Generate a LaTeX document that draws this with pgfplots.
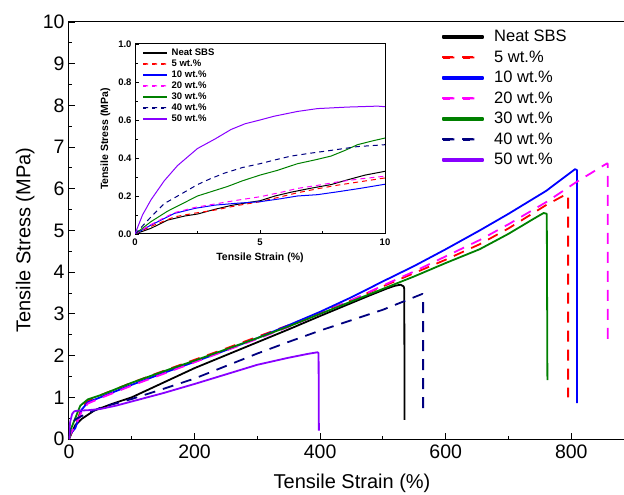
\documentclass[border=0pt]{standalone}
\usepackage{fontspec}
\setmainfont{Liberation Sans}
\usepackage{pgfplots}
\pgfplotsset{compat=1.18}
\definecolor{cnavy}{RGB}{0,0,128}
\definecolor{cgreen}{RGB}{0,128,0}
\definecolor{cviolet}{RGB}{136,0,255}
\definecolor{cblue}{RGB}{0,0,255}
\definecolor{cmag}{RGB}{255,0,255}
\definecolor{cred}{RGB}{255,0,0}
\begin{document}
\begin{tikzpicture}
\path[use as bounding box] (-69bp,-56bp) rectangle (555bp,439bp);
% ---------------- main axis ----------------
\begin{axis}[
  name=main,
  scale only axis, width=555bp, height=417bp,
  xmin=0, xmax=884, ymin=0, ymax=10,
  xtick={0,200,400,600,800}, minor x tick num=1,
  ytick={0,1,...,10}, minor y tick num=1,
  tick align=inside, tick pos=left,
  major tick length=6bp, minor tick length=3.5bp,
  every tick/.style={black, line width=0.9bp},
  axis line style={line width=1bp},
  /pgf/number format/assume math mode=true,
  ticklabel style={font=\fontsize{19.5bp}{22bp}\selectfont},
  xticklabel style={yshift=-2bp},
  yticklabel style={xshift=-1bp},
  xlabel={Tensile Strain (\%)}, ylabel={Tensile Stress (MPa)},
  label style={font=\fontsize{20bp}{24bp}\selectfont},
  x label style={at={(axis description cs:0.51,-0.106)}, anchor=center},
  y label style={at={(axis description cs:-0.079,0.477)}, anchor=center, rotate=0},
  legend cell align=left,
  legend style={at={(0.6725,0.985)}, anchor=north west, draw=none, fill=none,
    font=\fontsize{16.5bp}{19bp}\selectfont, row sep=3.5bp, column sep=8bp, inner sep=0pt},
]
\addplot[color=black, solid, line width=1.8bp, line join=round,
  legend image code/.code={\fill[black] (0bp,-0.9bp) rectangle (40bp,0.9bp);}] coordinates {
(0,0) (3,0.1) (5,0.175) (10,0.33) (20,0.48) (40,0.68) (70,0.85) (100,1.0) (150,1.35) (200,1.7) (250,2.01) (300,2.32) (350,2.63) (400,2.95) (440,3.2) (480,3.45) (505,3.6) (518,3.67) (528,3.70) (533,3.66) (534,3.6) (534.5,0.46)};
\addlegendentry{Neat SBS}
\addplot[color=cred, dash pattern=on 11bp off 8bp, line width=1.8bp, line join=round,
  legend image code/.code={\fill[cred] (0bp,-0.9bp) rectangle (11bp,0.9bp) (20bp,-0.9bp) rectangle (31bp,0.9bp);}] coordinates {
(0,0) (3,0.126) (5,0.17) (10,0.3) (20,0.75) (30,0.92) (50,1.05) (100,1.35) (150,1.63) (200,1.9) (250,2.17) (300,2.45) (350,2.73) (400,3.02) (450,3.33) (500,3.66) (550,3.98) (600,4.3) (654,4.67) (700,5.05) (760,5.61) (792,5.87) (795,5.85) (795,1.0)};
\addlegendentry{5 wt.\%}
\addplot[color=cblue, solid, line width=1.8bp, line join=round,
  legend image code/.code={\fill[cblue] (0bp,-0.9bp) rectangle (40bp,0.9bp);}] coordinates {
(0,0) (3,0.15) (5,0.17) (10,0.26) (20,0.7) (30,0.88) (50,1.0) (100,1.3) (150,1.58) (200,1.85) (250,2.13) (300,2.42) (350,2.73) (400,3.05) (450,3.4) (500,3.78) (550,4.15) (600,4.55) (654,5.0) (700,5.4) (760,5.95) (806,6.47) (809,6.45) (809,0.86)};
\addlegendentry{10 wt.\%}
\addplot[color=cmag, dash pattern=on 11bp off 8bp, line width=1.8bp, line join=round,
  legend image code/.code={\fill[cmag] (0bp,-0.9bp) rectangle (11bp,0.9bp) (20bp,-0.9bp) rectangle (31bp,0.9bp);}] coordinates {
(0,0) (3,0.15) (5,0.196) (10,0.30) (20,0.65) (30,0.85) (50,0.98) (100,1.28) (150,1.56) (200,1.84) (250,2.12) (300,2.40) (350,2.69) (400,3.0) (450,3.33) (500,3.68) (550,4.02) (600,4.38) (654,4.77) (700,5.15) (760,5.68) (808,6.16) (857,6.61) (858,6.6) (858,2.37)};
\addlegendentry{20 wt.\%}
\addplot[color=cgreen, solid, line width=1.8bp, line join=round,
  legend image code/.code={\fill[cgreen] (0bp,-0.9bp) rectangle (40bp,0.9bp);}] coordinates {
(0,0) (3,0.25) (5,0.31) (10,0.5) (18,0.8) (30,0.95) (50,1.05) (100,1.35) (150,1.62) (200,1.88) (250,2.15) (300,2.42) (350,2.7) (400,3.0) (450,3.3) (500,3.6) (550,3.9) (600,4.22) (654,4.55) (700,4.92) (740,5.28) (756,5.42) (761,5.40) (762,1.41)};
\addlegendentry{30 wt.\%}
\addplot[color=cnavy, dash pattern=on 11bp off 8bp, line width=1.8bp, line join=round,
  legend image code/.code={\fill[cnavy] (0bp,-0.9bp) rectangle (11bp,0.9bp) (20bp,-0.9bp) rectangle (31bp,0.9bp);}] coordinates {
(0,0) (2,0.26) (5,0.37) (10,0.47) (20,0.55) (50,0.75) (100,0.96) (150,1.2) (200,1.45) (250,1.75) (300,2.05) (350,2.33) (400,2.6) (450,2.85) (500,3.1) (563,3.48) (564,3.46) (564,0.58)};
\addlegendentry{40 wt.\%}
\addplot[color=cviolet, solid, line width=1.8bp, line join=round,
  legend image code/.code={\fill[cviolet] (0bp,-0.9bp) rectangle (40bp,0.9bp);}] coordinates {
(0,0) (1,0.27) (2,0.42) (5,0.6) (8,0.66) (10,0.67) (15,0.68) (30,0.69) (50,0.72) (75,0.8) (100,0.9) (150,1.1) (200,1.32) (250,1.55) (300,1.78) (350,1.95) (380,2.04) (396,2.08) (397.5,2.06) (398,0.2)};
\addlegendentry{50 wt.\%}
\end{axis}
% ---------------- inset ----------------
\begin{axis}[
  at={(66bp,205bp)}, anchor=south west,
  scale only axis, width=250bp, height=190bp,
  xmin=0, xmax=10, ymin=0, ymax=1,
  xtick={0,5,10}, minor x tick num=1,
  ytick={0,0.2,...,1.0}, minor y tick num=1,
  tick align=inside, tick pos=left,
  major tick length=4bp, minor tick length=2.5bp,
  every tick/.style={black, line width=0.8bp},
  axis line style={line width=1bp},
  /pgf/number format/assume math mode=true,
  yticklabel style={/pgf/number format/fixed, /pgf/number format/fixed zerofill, /pgf/number format/precision=1, xshift=0bp},
  ticklabel style={font=\bfseries\fontsize{9.5bp}{11bp}\selectfont},
  xticklabel style={yshift=-1.5bp},
  xlabel={Tensile Strain (\%)}, ylabel={Tensile Stress (MPa)},
  label style={font=\bfseries\fontsize{10.5bp}{12bp}\selectfont},
  x label style={at={(axis description cs:0.5,-0.126)}, anchor=center},
  y label style={at={(axis description cs:-0.118,0.5)}, anchor=center, rotate=0},
  legend cell align=left,
  legend style={at={(0.03,0.985)}, anchor=north west, draw=none, fill=none,
    font=\bfseries\fontsize{9.5bp}{10bp}\selectfont, row sep=-1.2bp, column sep=3bp, inner sep=0pt},
]
\addplot[color=black, solid, line width=1bp,
  legend image code/.code={\fill[black] (0bp,-0.55bp) rectangle (23bp,0.55bp);}] coordinates {
(0,0) (0.64,0.03) (1.3,0.073) (2.0,0.095) (2.5,0.105) (3.2,0.13) (3.84,0.15) (4.5,0.165) (5,0.175) (5.6,0.2) (6.24,0.22) (7,0.24) (7.84,0.26) (8.5,0.285) (9.2,0.31) (10,0.33)};
\addlegendentry{Neat SBS}
\addplot[color=cred, dash pattern=on 5bp off 4bp, line width=1bp,
  legend image code/.code={\fill[cred] (0bp,-0.55bp) rectangle (5bp,0.55bp) (9bp,-0.55bp) rectangle (14bp,0.55bp) (18bp,-0.55bp) rectangle (23bp,0.55bp);}] coordinates {
(0,0) (0.64,0.04) (1.57,0.09) (2.4,0.11) (3.2,0.126) (4.1,0.15) (5,0.17) (5.8,0.195) (6.5,0.217) (7.3,0.238) (8.1,0.257) (9,0.275) (10,0.295)};
\addlegendentry{5 wt.\%}
\addplot[color=cblue, solid, line width=1bp,
  legend image code/.code={\fill[cblue] (0bp,-0.55bp) rectangle (23bp,0.55bp);}] coordinates {
(0,0) (0.64,0.047) (1.57,0.108) (2.4,0.135) (3.2,0.152) (4.1,0.162) (5,0.17) (5.8,0.185) (6.5,0.2) (7.3,0.207) (8.1,0.222) (9,0.24) (10,0.262)};
\addlegendentry{10 wt.\%}
\addplot[color=cmag, dash pattern=on 5bp off 4bp, line width=1bp,
  legend image code/.code={\fill[cmag] (0bp,-0.55bp) rectangle (5bp,0.55bp) (9bp,-0.55bp) rectangle (14bp,0.55bp) (18bp,-0.55bp) rectangle (23bp,0.55bp);}] coordinates {
(0,0) (0.64,0.05) (1.57,0.112) (2.4,0.14) (3.2,0.158) (4.1,0.178) (5,0.196) (5.8,0.218) (6.5,0.24) (7.3,0.256) (8.1,0.274) (9,0.29) (10,0.304)};
\addlegendentry{20 wt.\%}
\addplot[color=cgreen, solid, line width=1bp,
  legend image code/.code={\fill[cgreen] (0bp,-0.55bp) rectangle (23bp,0.55bp);}] coordinates {
(0,0) (0.64,0.065) (1.3,0.12) (1.9,0.16) (2.5,0.2) (3.1,0.225) (3.7,0.25) (4.3,0.28) (5,0.31) (5.7,0.335) (6.5,0.37) (7.2,0.39) (7.84,0.41) (8.4,0.44) (8.9,0.47) (9.5,0.49) (10,0.505)};
\addlegendentry{30 wt.\%}
\addplot[color=cnavy, dash pattern=on 5bp off 4bp, line width=1bp,
  legend image code/.code={\fill[cnavy] (0bp,-0.55bp) rectangle (5bp,0.55bp) (9bp,-0.55bp) rectangle (14bp,0.55bp) (18bp,-0.55bp) rectangle (23bp,0.55bp);}] coordinates {
(0,0) (0.64,0.09) (1.17,0.16) (1.84,0.21) (2.5,0.26) (3,0.29) (3.57,0.32) (4.3,0.35) (5,0.37) (5.6,0.39) (6.24,0.41) (7,0.425) (7.84,0.44) (8.9,0.46) (10,0.47)};
\addlegendentry{40 wt.\%}
\addplot[color=cviolet, solid, line width=1bp,
  legend image code/.code={\fill[cviolet] (0bp,-0.55bp) rectangle (23bp,0.55bp);}] coordinates {
(0,0) (0.3,0.1) (0.64,0.18) (1.17,0.28) (1.7,0.36) (2.5,0.45) (3.2,0.50) (3.84,0.55) (4.4,0.58) (5,0.60) (5.57,0.62) (6.5,0.645) (7.3,0.66) (8.5,0.668) (9.7,0.673) (10,0.67)};
\addlegendentry{50 wt.\%}
\end{axis}
\end{tikzpicture}
\end{document}
